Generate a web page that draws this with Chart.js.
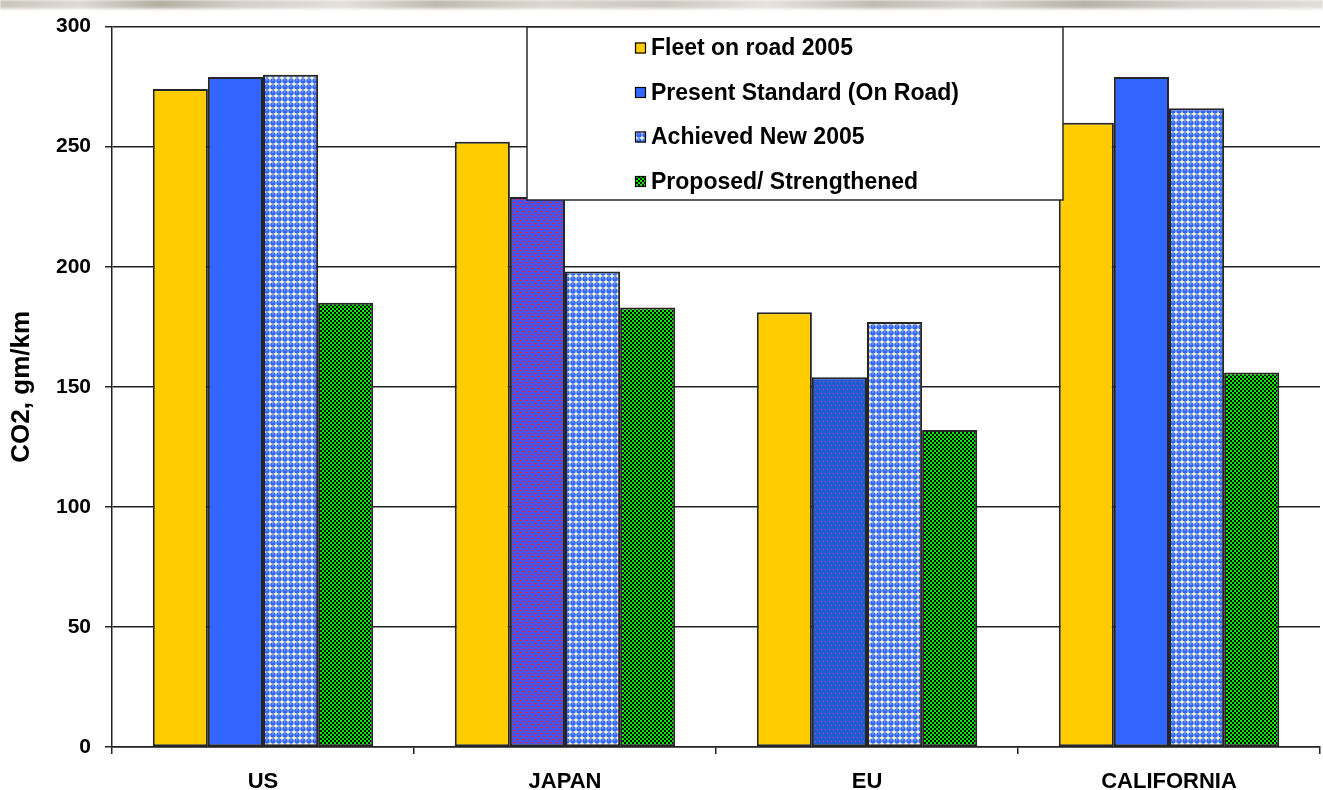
<!DOCTYPE html>
<html>
<head>
<meta charset="utf-8">
<title>CO2 emissions by region</title>
<script src="https://cdn.jsdelivr.net/npm/chart.js@4.4.0/dist/chart.umd.min.js"></script>
<style>
  html, body { margin: 0; padding: 0; background: #fff; }
  #wrap { position: relative; width: 1323px; height: 790px; overflow: hidden; background: #fff; }
  #band {
    position: absolute; left: 0; top: 0; width: 1323px; height: 10px;
    background:
      linear-gradient(180deg, rgba(255,255,255,0) 0%, rgba(255,255,255,0) 70%, rgba(255,255,255,0.9) 100%),
      linear-gradient(90deg, #cbc4bb 0%, #dedad3 6%, #b5ada2 12%, #d3cec7 18%, #e4e0da 26%, #c1b9af 33%, #dbd6cf 41%, #cdc7bf 50%, #e6e2dd 58%, #c2bbb2 66%, #d9d4cd 74%, #b9b1a7 82%, #d3cec8 90%, #e1ddd8 100%);
    filter: blur(0.8px);
  }
  #c { position: absolute; left: 0; top: 0; }
</style>
</head>
<body>
<div id="wrap">
  <div id="band"></div>
  <canvas id="c" width="1323" height="790"></canvas>
</div>
<script>
// Regions and CO2 values (gm/km) per series
const categories = ['US', 'JAPAN', 'EU', 'CALIFORNIA'];
const fleetOnRoad2005 = [274, 252, 181, 260];
const presentStandardOnRoad = [279, 229, 154, 279];
const achievedNew2005 = [280, 198, 177, 266];
const proposedStrengthened = [185, 183, 132, 156];
const seriesNames = ['Fleet on road 2005', 'Present Standard (On Road)', 'Achieved New 2005', 'Proposed/ Strengthened'];
const yTickValues = [0, 50, 100, 150, 200, 250, 300];
const yAxisTitle = 'CO2, gm/km';

const FONT = '"Liberation Sans", Arial, Helvetica, sans-serif';
const canvas = document.getElementById('c');
const ctx = canvas.getContext('2d');

// Small repeating tiles used as bar fills
function makeTile(w, h, draw) {
  const t = document.createElement('canvas');
  t.width = w; t.height = h;
  draw(t.getContext('2d'));
  return ctx.createPattern(t, 'repeat');
}
const yellow = '#FFCC00';
const solidBlue = '#3366FF';
const ballPattern = makeTile(6, 6, g => {
  g.fillStyle = '#FFFFCC'; g.fillRect(0, 0, 6, 6);
  g.fillStyle = '#3366FF'; g.beginPath(); g.arc(3, 3, 2.75, 0, Math.PI * 2); g.fill();
  g.fillStyle = '#a9bcff'; g.fillRect(2, 1.5, 1.5, 1);
});
const greenChecker = makeTile(4, 4, g => {
  g.fillStyle = '#000000'; g.fillRect(0, 0, 4, 4);
  g.fillStyle = '#00F000'; g.fillRect(0, 0, 2, 2); g.fillRect(2, 2, 2, 2);
});
const redDashBlue = makeTile(6, 6, g => {
  g.fillStyle = '#4256EE'; g.fillRect(0, 0, 6, 6);
  g.fillStyle = '#E41E3C'; g.fillRect(0, 1, 3, 1); g.fillRect(3, 4, 3, 1);
});
const magentaDotBlue = makeTile(8, 8, g => {
  g.fillStyle = '#1E5CD0'; g.fillRect(0, 0, 8, 8);
  g.fillStyle = '#D030E0';
  g.fillRect(1, 1, 1, 1); g.fillRect(5, 1, 1, 1); g.fillRect(3, 5, 1, 1); g.fillRect(7, 5, 1, 1);
});

// Boxed legend drawn over the plot area
const boxLegend = {
  id: 'boxLegend',
  afterDraw(chart) {
    const c = chart.ctx;
    const L = 527, T = 27, R = 1063, B = 200;
    c.save();
    c.fillStyle = '#ffffff';
    c.fillRect(L, T, R - L, B - T);
    c.strokeStyle = '#2a2a2a';
    c.lineWidth = 1.5;
    c.strokeRect(L, T, R - L, B - T);
    c.font = 'bold 23px ' + FONT;
    c.textBaseline = 'middle';
    c.textAlign = 'left';
    chart.data.datasets.forEach((ds, i) => {
      const y = 48 + i * 44.5;
      c.fillStyle = ds.swatch;
      c.fillRect(635, y - 5.5, 11, 11);
      c.strokeStyle = '#000';
      c.lineWidth = 1.2;
      c.strokeRect(635.5, y - 5, 10, 10);
      c.fillStyle = '#000';
      c.fillText(ds.label, 651, y + 1);
    });
    c.restore();
  }
};

new Chart(ctx, {
  type: 'bar',
  data: {
    labels: categories,
    datasets: [
      { label: seriesNames[0], data: fleetOnRoad2005, backgroundColor: yellow, swatch: yellow },
      { label: seriesNames[1], data: presentStandardOnRoad,
        backgroundColor: [solidBlue, redDashBlue, magentaDotBlue, solidBlue], swatch: solidBlue },
      { label: seriesNames[2], data: achievedNew2005, backgroundColor: ballPattern, swatch: ballPattern },
      { label: seriesNames[3], data: proposedStrengthened, backgroundColor: greenChecker, swatch: greenChecker }
    ]
  },
  options: {
    responsive: false,
    animation: false,
    devicePixelRatio: 1,
    layout: { padding: { top: 26, right: 3, left: 0, bottom: 0 } },
    plugins: { legend: { display: false }, tooltip: { enabled: false } },
    datasets: {
      bar: {
        categoryPercentage: 0.73,
        barPercentage: 1,
        borderWidth: 2,
        borderColor: '#262626',
        borderSkipped: false
      }
    },
    scales: {
      x: {
        grid: { display: true, drawOnChartArea: false, drawTicks: true, tickLength: 7, color: '#222', lineWidth: 1.5 },
        border: { display: true, color: '#222', width: 1.5 },
        ticks: { color: '#000', font: { family: FONT, size: 22, weight: 'bold' }, padding: 15 },
        afterFit: s => { s.height = 43; }
      },
      y: {
        min: 0,
        max: 300,
        afterBuildTicks: s => { s.ticks = yTickValues.map(v => ({ value: v })); },
        grid: { color: '#222', lineWidth: 1.5, tickLength: 7 },
        border: { display: true, color: '#222', width: 1.5 },
        ticks: { color: '#000', font: { family: FONT, size: 21, weight: 'bold' }, padding: 14 },
        title: {
          display: true, text: yAxisTitle, color: '#000',
          font: { family: FONT, size: 26, weight: 'bold' },
          padding: { top: 6, bottom: 0 }
        },
        afterFit: s => { s.width = 112; }
      }
    }
  },
  plugins: [boxLegend]
});
</script>
</body>
</html>
